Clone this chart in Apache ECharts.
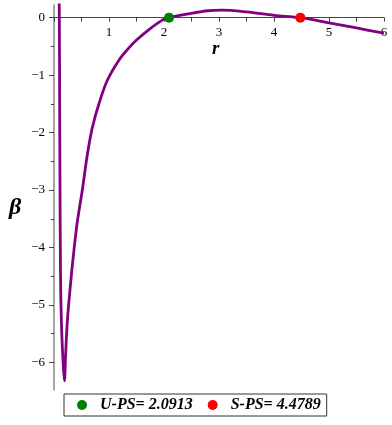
<!DOCTYPE html>
<html>
<head>
<meta charset="utf-8">
<script src="https://cdn.jsdelivr.net/npm/echarts@6/dist/echarts.min.js"></script>
<style>
  html, body { margin: 0; padding: 0; background: #fff; }
  #main { width: 392px; height: 425px; }
</style>
</head>
<body>
<div id="main"></div>
<script>
// beta(r) curve
var rValues = [0.092, 0.097, 0.103, 0.109, 0.115, 0.122, 0.135, 0.148, 0.17, 0.19,
    0.21, 0.24, 0.29, 0.35, 0.42, 0.515, 0.61, 0.7, 0.82, 0.97, 1.18, 1.35, 1.5, 1.75, 1.99,
    2.0913, 2.47, 2.8, 3.05, 3.5, 4.0, 4.4789, 5.0, 5.5, 6.0];
var betaValues = [0.4, 0, -1.5, -3.0, -4.0, -4.74, -5.3, -5.65, -6.07, -6.32,
    -5.9, -5.32, -4.74, -4.16, -3.58, -3.0, -2.36, -1.9, -1.49, -1.09, -0.74, -0.54, -0.39, -0.19, -0.03,
    0, 0.07, 0.12, 0.13, 0.1, 0.04, 0, -0.09, -0.18, -0.27];

var xTicks = [1, 2, 3, 4, 5, 6];
var yTicks = [-6, -5, -4, -3, -2, -1, 0];
var yHalfTicks = [-6, -5.5, -5, -4.5, -4, -3.5, -3, -2.5, -2, -1.5, -1, -0.5, 0];

var pointNames = ['U-PS= 2.0913', 'S-PS= 4.4789'];
var pointR = [2.0913, 4.4789];
var pointBeta = [0, 0];
var pointColors = ['#008000', '#ff0000'];

var curve = [];
for (var i = 0; i < rValues.length; i++) {
    curve.push([rValues[i], betaValues[i]]);
}

var minus = function (v) {
    return v < 0 ? '\u2212' + Math.abs(v) : String(v);
};

var serif = 'Liberation Serif';
var yMin = -6.48, yMax = 0.22;
var gridTop = 5, gridBottom = 35, chartH = 425;
// x axis sits on beta = 0: push it down from the grid top by that much
var zeroShift = (chartH - gridTop - gridBottom) * yMax / (yMax - yMin);

var myChart = echarts.init(document.getElementById('main'));

var series = [{
    name: 'beta',
    type: 'line',
    data: curve,
    smooth: 0.35,
    showSymbol: false,
    lineStyle: { color: '#800080', width: 2.8 },
    itemStyle: { color: '#800080' },
    z: 2
}];
for (var k = 0; k < pointNames.length; k++) {
    series.push({
        name: pointNames[k],
        type: 'scatter',
        data: [[pointR[k], pointBeta[k]]],
        symbolSize: 10,
        itemStyle: { color: pointColors[k], opacity: 1 },
        z: 5
    });
}

myChart.setOption({
    animation: false,
    grid: { left: 54, right: 8, top: gridTop, bottom: gridBottom, outerBoundsMode: 'none' },
    xAxis: {
        type: 'value',
        position: 'top',
        offset: -zeroShift,
        min: 0,
        max: 6,
        interval: 1,
        axisLine: { onZero: false, lineStyle: { color: '#444', width: 1 } },
        axisTick: { show: true, inside: true, length: 4, lineStyle: { color: '#444' } },
        minorTick: { show: true, splitNumber: 2, length: 4, lineStyle: { color: '#444' } },
        axisLabel: {
            customValues: xTicks,
            inside: true,
            margin: 8,
            fontFamily: serif,
            fontSize: 13,
            color: '#000'
        },
        splitLine: { show: false }
    },
    yAxis: [{
        type: 'value',
        min: yMin,
        max: yMax,
        axisLine: { show: true, onZero: false, lineStyle: { color: '#888', width: 1.5 } },
        axisTick: { show: true, customValues: yTicks, length: 5, lineStyle: { color: '#444' } },
        axisLabel: {
            customValues: yTicks,
            margin: 9,
            fontFamily: serif,
            fontSize: 13,
            color: '#000',
            formatter: minus
        },
        splitLine: { show: false }
    }, {
        type: 'value',
        min: yMin,
        max: yMax,
        position: 'left',
        axisLine: { show: false, onZero: false },
        axisTick: { show: true, customValues: yHalfTicks, length: 3, lineStyle: { color: '#444' } },
        axisLabel: { show: false },
        splitLine: { show: false }
    }],
    legend: {
        data: pointNames,
        left: 64,
        top: 394,
        icon: 'circle',
        itemWidth: 26,
        itemHeight: 10,
        itemGap: 15,
        padding: [3, 6, 3, 13],
        borderColor: '#333',
        borderWidth: 1,
        textStyle: { fontFamily: serif, fontSize: 16, fontWeight: 'bold', fontStyle: 'italic', color: '#000' }
    },
    graphic: [{
        type: 'text',
        left: 212,
        top: 40,
        style: { text: 'r', fontFamily: serif, fontSize: 19, fontWeight: 'bold', fontStyle: 'italic', fill: '#000' }
    }, {
        type: 'text',
        left: 9,
        top: 196,
        style: { text: 'β', fontFamily: serif, fontSize: 24, fontWeight: 'bold', fontStyle: 'italic', fill: '#000' }
    }],
    series: series
});
</script>
</body>
</html>
